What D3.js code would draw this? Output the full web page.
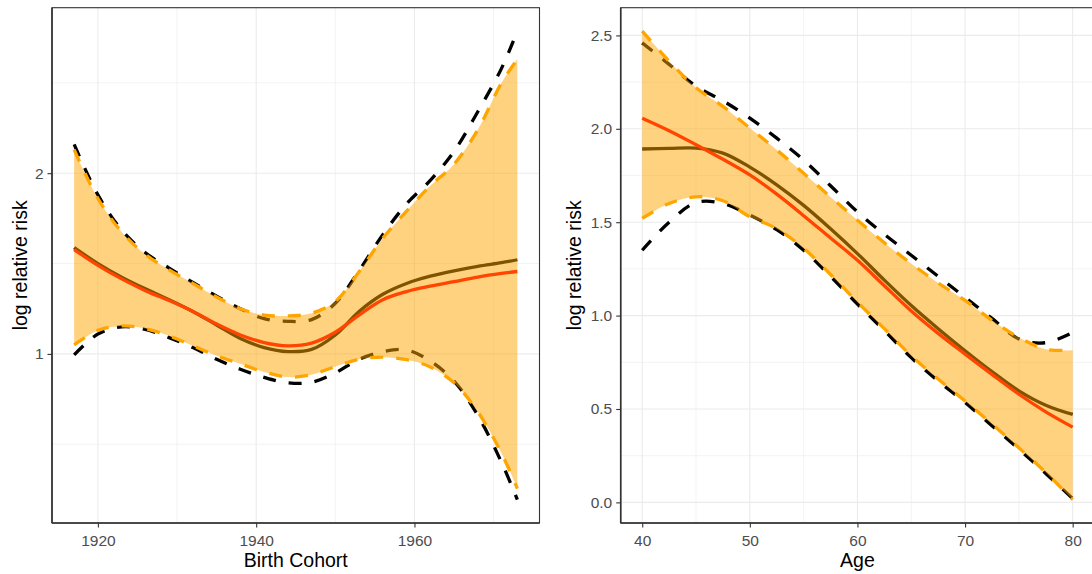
<!DOCTYPE html>
<html>
<head>
<meta charset="utf-8">
<script src="https://cdn.jsdelivr.net/npm/d3@7"></script>
<style>
  body { margin: 0; background: #fff; }
  svg { display: block; font-family: "Liberation Sans", Arial, sans-serif; }
</style>
</head>
<body>
<div id="chart"></div>
<script>
// ---- birth cohort panel (model A = black, model B = orange) ----
const cohortYears = [1917, 1920, 1923, 1926, 1929, 1932, 1935, 1938, 1941, 1944, 1947, 1950, 1953, 1956, 1959, 1962, 1965, 1968, 1971, 1973];
const cohortFitA  = [1.588, 1.50, 1.425, 1.36, 1.30, 1.235, 1.16, 1.085, 1.035, 1.013, 1.025, 1.105, 1.235, 1.33, 1.39, 1.43, 1.46, 1.485, 1.505, 1.521];
const cohortLowA  = [0.994, 1.11, 1.15, 1.135, 1.09, 1.035, 0.97, 0.915, 0.87, 0.84, 0.843, 0.895, 0.97, 1.012, 1.022, 0.96, 0.85, 0.66, 0.40, 0.194];
const cohortUpA   = [2.159, 1.88, 1.685, 1.56, 1.475, 1.395, 1.32, 1.25, 1.195, 1.18, 1.19, 1.28, 1.46, 1.66, 1.83, 1.96, 2.12, 2.34, 2.58, 2.786];
const cohortFitB  = [1.577, 1.49, 1.415, 1.35, 1.295, 1.235, 1.165, 1.105, 1.063, 1.045, 1.06, 1.12, 1.215, 1.30, 1.345, 1.375, 1.40, 1.425, 1.445, 1.456];
const cohortLowB  = [1.05, 1.13, 1.155, 1.14, 1.10, 1.045, 0.99, 0.945, 0.90, 0.872, 0.885, 0.93, 0.97, 0.982, 0.968, 0.928, 0.84, 0.68, 0.45, 0.255];
const cohortUpB   = [2.13, 1.86, 1.675, 1.55, 1.465, 1.39, 1.315, 1.25, 1.215, 1.21, 1.225, 1.29, 1.455, 1.64, 1.79, 1.93, 2.05, 2.24, 2.50, 2.63];
const cohortTicksX = [1920, 1940, 1960];
const cohortMinorX = [1930, 1950, 1970];
const cohortTicksY = [1, 2];
const cohortMinorY = [0.5, 1.5, 2.5];

// ---- age panel ----
const ages     = [40, 42.5, 45, 47.5, 50, 52.5, 55, 57.5, 60, 62.5, 65, 67.5, 70, 72.5, 75, 77.5, 80];
const ageFitA  = [1.892, 1.895, 1.897, 1.87, 1.795, 1.70, 1.59, 1.465, 1.332, 1.19, 1.054, 0.93, 0.812, 0.70, 0.597, 0.52, 0.471];
const ageLowA  = [1.35, 1.50, 1.605, 1.60, 1.538, 1.46, 1.35, 1.21, 1.062, 0.92, 0.775, 0.65, 0.535, 0.41, 0.285, 0.155, 0.02];
const ageUpA   = [2.46, 2.345, 2.228, 2.15, 2.057, 1.95, 1.833, 1.695, 1.555, 1.435, 1.323, 1.21, 1.098, 0.985, 0.875, 0.855, 0.91];
const ageFitB  = [2.057, 1.99, 1.915, 1.837, 1.753, 1.65, 1.535, 1.415, 1.296, 1.16, 1.025, 0.905, 0.794, 0.685, 0.579, 0.485, 0.403];
const ageLowB  = [1.52, 1.60, 1.636, 1.615, 1.529, 1.465, 1.36, 1.22, 1.072, 0.93, 0.785, 0.66, 0.543, 0.42, 0.292, 0.16, 0.015];
const ageUpB   = [2.523, 2.362, 2.22, 2.12, 2.004, 1.887, 1.762, 1.635, 1.511, 1.39, 1.278, 1.175, 1.081, 0.975, 0.883, 0.82, 0.815];
const ageTicksX = [40, 50, 60, 70, 80];
const ageMinorX = [45, 55, 65, 75];
const ageTicksY = [0, 0.5, 1, 1.5, 2, 2.5];
const ageMinorY = [0.25, 0.75, 1.25, 1.75, 2.25];

const W = 1092, H = 574;
const svg = d3.select("#chart").append("svg")
    .attr("width", W).attr("height", H);

function drawPanel(id, x0, x1, xs, series, opts) {
    const top = 7.7, bottom = 523;
    const all = [].concat(series.fitA, series.lowA, series.upA, series.fitB, series.lowB, series.upB);
    const yMin = d3.min(all), yMax = d3.max(all);
    const yPad = (yMax - yMin) * 0.05;
    const xPad = (d3.max(xs) - d3.min(xs)) * 0.05;

    const x = d3.scaleLinear().domain([d3.min(xs) - xPad, d3.max(xs) + xPad]).range([x0, x1]);
    const y = d3.scaleLinear().domain([yMin - yPad, yMax + yPad]).range([bottom, top]);

    const g = svg.append("g");
    g.append("clipPath").attr("id", "clip" + id)
      .append("rect").attr("x", x0).attr("y", top).attr("width", x1 - x0).attr("height", bottom - top);

    const panel = g.append("g").attr("clip-path", "url(#clip" + id + ")");

    // grid
    panel.selectAll(".minx").data(opts.minorX).enter().append("line")
        .attr("x1", d => x(d)).attr("x2", d => x(d)).attr("y1", top).attr("y2", bottom)
        .attr("stroke", "#ebebeb").attr("stroke-width", 0.6);
    panel.selectAll(".miny").data(opts.minorY).enter().append("line")
        .attr("y1", d => y(d)).attr("y2", d => y(d)).attr("x1", x0).attr("x2", x1)
        .attr("stroke", "#ebebeb").attr("stroke-width", 0.6);
    panel.selectAll(".majx").data(opts.ticksX).enter().append("line")
        .attr("x1", d => x(d)).attr("x2", d => x(d)).attr("y1", top).attr("y2", bottom)
        .attr("stroke", "#ebebeb").attr("stroke-width", 1.1);
    panel.selectAll(".majy").data(opts.ticksY).enter().append("line")
        .attr("y1", d => y(d)).attr("y2", d => y(d)).attr("x1", x0).attr("x2", x1)
        .attr("stroke", "#ebebeb").attr("stroke-width", 1.1);

    const line = vals => d3.line()
        .x((d, i) => x(xs[i]))
        .y(d => y(d))
        .curve(d3.curveCatmullRom.alpha(0.5))(vals);

    const area = d3.area()
        .x((d, i) => x(xs[i]))
        .y0((d, i) => y(series.lowB[i]))
        .y1((d, i) => y(series.upB[i]))
        .curve(d3.curveCatmullRom.alpha(0.5));

    // model A (black) sits under the ribbon
    [series.lowA, series.upA].forEach(v => {
        panel.append("path").attr("d", line(v)).attr("fill", "none")
            .attr("stroke", "#000").attr("stroke-width", 3.3)
            .attr("stroke-dasharray", "13,13");
    });
    panel.append("path").attr("d", line(series.fitA)).attr("fill", "none")
        .attr("stroke", "#000").attr("stroke-width", 3.3);

    // model B ribbon and lines
    panel.append("path").attr("d", area(series.lowB)).attr("fill", "#ffa500").attr("fill-opacity", 0.5);
    [series.lowB, series.upB].forEach(v => {
        panel.append("path").attr("d", line(v)).attr("fill", "none")
            .attr("stroke", "#ffa500").attr("stroke-width", 3.3)
            .attr("stroke-dasharray", "13,13");
    });
    panel.append("path").attr("d", line(series.fitB)).attr("fill", "none")
        .attr("stroke", "#ff4500").attr("stroke-width", 3.3);

    // border
    g.append("rect").attr("x", x0).attr("y", top).attr("width", x1 - x0).attr("height", bottom - top)
        .attr("fill", "none").attr("stroke", "#333").attr("stroke-width", 1.1);
    g.append("line").attr("x1", x0).attr("x2", x0).attr("y1", top).attr("y2", bottom)
        .attr("stroke", "#333").attr("stroke-width", 1.6);
    g.append("line").attr("x1", x0).attr("x2", x1).attr("y1", bottom).attr("y2", bottom)
        .attr("stroke", "#333").attr("stroke-width", 1.6);

    // axes
    const ax = g.append("g").attr("transform", "translate(0," + bottom + ")")
        .call(d3.axisBottom(x).tickValues(opts.ticksX).tickSize(4.5).tickFormat(opts.fmtX));
    const ay = g.append("g").attr("transform", "translate(" + x0 + ",0)")
        .call(d3.axisLeft(y).tickValues(opts.ticksY).tickSize(4.5).tickFormat(opts.fmtY));
    [ax, ay].forEach(a => {
        a.select(".domain").remove();
        a.selectAll(".tick line").attr("stroke", "#333").attr("stroke-width", 1.1);
        a.selectAll(".tick text").attr("fill", "#4d4d4d")
            .style("font-size", "15.5px").style("font-family", "Liberation Sans, Arial, sans-serif");
    });
    ax.selectAll(".tick text").attr("y", 0).attr("dy", "0").attr("transform", "translate(0,22.5)");
    ay.selectAll(".tick text").attr("x", -8.5);

    g.append("text").attr("x", (x0 + x1) / 2).attr("y", 566.5)
        .attr("text-anchor", "middle").style("font-size", "19.5px").attr("fill", "#000")
        .text(opts.titleX);
    g.append("text").attr("transform", "translate(" + opts.titleYx + "," + ((top + bottom) / 2) + ") rotate(-90)")
        .attr("text-anchor", "middle").style("font-size", "19.5px").attr("fill", "#000")
        .text("log relative risk");
}

drawPanel("c", 52, 539.5, cohortYears,
    { fitA: cohortFitA, lowA: cohortLowA, upA: cohortUpA, fitB: cohortFitB, lowB: cohortLowB, upB: cohortUpB },
    { ticksX: cohortTicksX, minorX: cohortMinorX, ticksY: cohortTicksY, minorY: cohortMinorY,
      fmtX: d3.format("d"), fmtY: d3.format("d"), titleX: "Birth Cohort", titleYx: 26.5 });

drawPanel("a", 620.7, 1094.2, ages,
    { fitA: ageFitA, lowA: ageLowA, upA: ageUpA, fitB: ageFitB, lowB: ageLowB, upB: ageUpB },
    { ticksX: ageTicksX, minorX: ageMinorX, ticksY: ageTicksY, minorY: ageMinorY,
      fmtX: d3.format("d"), fmtY: d3.format(".1f"), titleX: "Age", titleYx: 581 });
</script>
</body>
</html>
